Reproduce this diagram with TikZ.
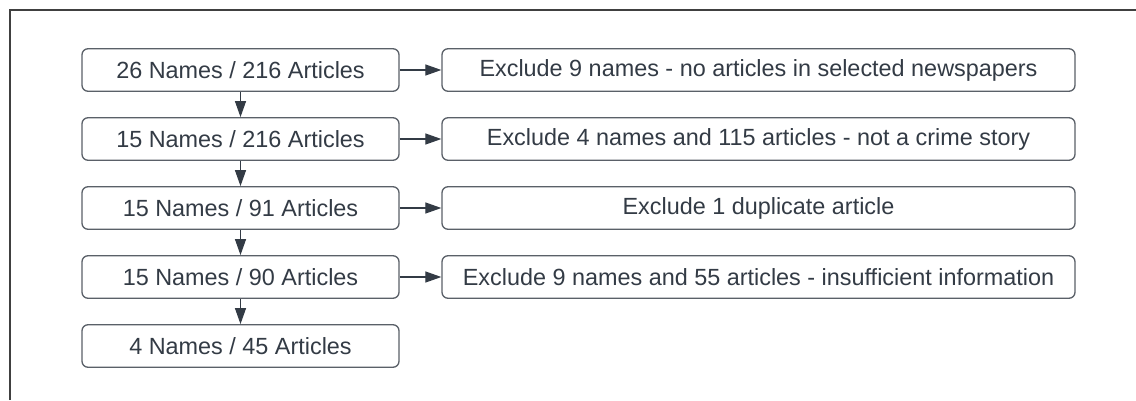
\documentclass[tikz,border=0pt]{standalone}
\usepackage{fontspec}
\setmainfont{Liberation Sans}
\usetikzlibrary{arrows.meta}
\definecolor{txt}{HTML}{333B45}
\definecolor{edge}{HTML}{5A6068}
\definecolor{arr}{HTML}{333B45}
\begin{document}
\begin{tikzpicture}[x=1pt,y=-1pt,
  box/.style={draw=edge,line width=1.3pt,rounded corners=6pt,fill=white,
    minimum height=42.5pt,inner sep=0pt,text=txt,font=\fontsize{23.4}{27}\selectfont},
  lbox/.style={box,minimum width=317pt},
  rbox/.style={box,minimum width=633pt},
  conn/.style={draw=arr,line width=1.2pt,-{Triangle[length=16pt,width=11pt]}}]
\useasboundingbox (0,0) rectangle (1136,400);
\draw[line width=1.3pt,draw=black!75] (10,400) -- (10,10) -- (1136,10);
\node[lbox] (a1) at (240.5,70) {26 Names / 216 Articles};
\node[lbox] (a2) at (240.5,139) {15 Names / 216 Articles};
\node[lbox] (a3) at (240.5,208) {15 Names / 91 Articles};
\node[lbox] (a4) at (240.5,277) {15 Names / 90 Articles};
\node[lbox] (a5) at (240.5,346) {4 Names / 45 Articles};
\node[rbox] (b1) at (758.5,70) {Exclude 9 names - no articles in selected newspapers};
\node[rbox] (b2) at (758.5,139) {Exclude 4 names and 115 articles - not a crime story};
\node[rbox] (b3) at (758.5,208) {Exclude 1 duplicate article};
\node[rbox] (b4) at (758.5,277) {Exclude 9 names and 55 articles - insufficient information};
\foreach \i/\j in {1/2,2/3,3/4,4/5} {\draw[conn] (a\i) -- (a\j);}
\foreach \i in {1,2,3,4} {\draw[conn] (a\i) -- (b\i);}
\end{tikzpicture}
\end{document}
